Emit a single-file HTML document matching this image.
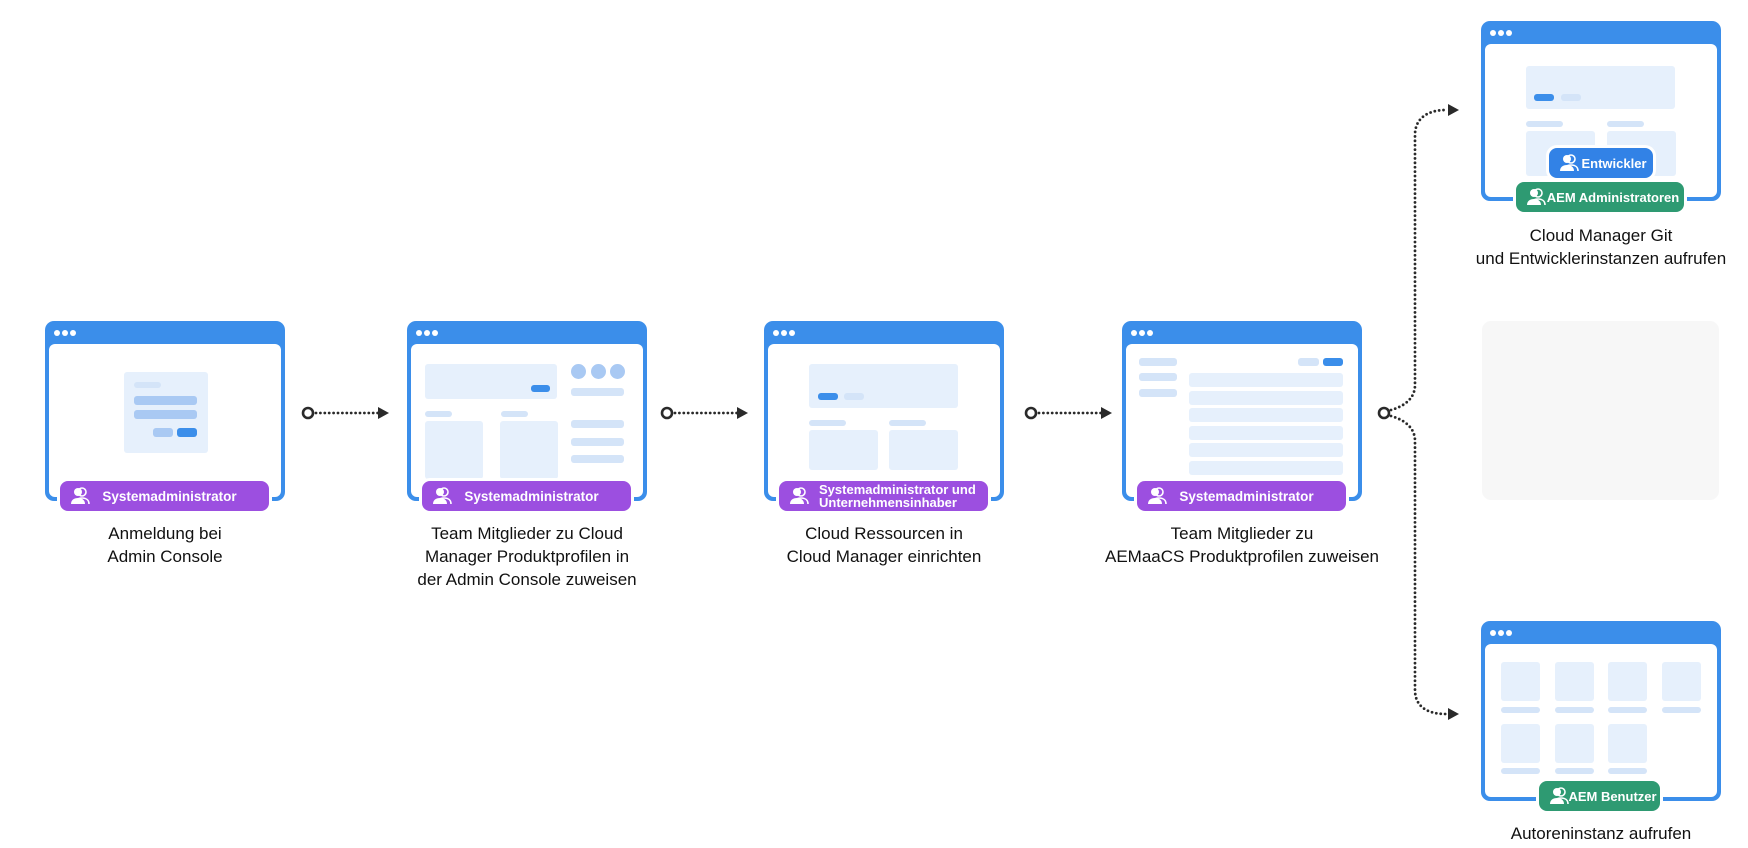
<!DOCTYPE html>
<html><head><meta charset="utf-8"><style>
body{margin:0;width:1748px;height:848px;background:#fff;position:relative;overflow:hidden;font-family:"Liberation Sans",sans-serif}
.box{position:absolute;width:240px;height:180px;background:#3b8eea;border-radius:9px}
.inner{position:absolute;left:4px;top:23px;right:4px;bottom:4px;background:#fff;border-radius:6px}
.d{position:absolute;top:9px;width:6px;height:6px;border-radius:50%;background:#fff}
.r{position:absolute;border-radius:3px}
.p{background:#e6f0fc}.l{background:#d4e4f8}.m{background:#a9c9f3}.b{background:#3b8eea}
.badge{position:absolute;height:30px;border-radius:8px;box-shadow:0 0 0 3px #fff;color:#fff;font-weight:bold;font-size:13.5px;display:flex;align-items:center;justify-content:center;white-space:nowrap;box-sizing:border-box}
.badge svg{position:absolute;left:10px;top:6px}
.pu{background:#9c4fe0;left:15px;top:160px;width:209px;padding-left:10px}
.t{position:absolute;text-align:center;font-size:17px;line-height:23px;color:#111}
</style></head><body>
<svg width="0" height="0" style="position:absolute"><defs>
<symbol id="u" viewBox="0 0 20 18"><circle cx="12" cy="5" r="4" fill="none" stroke="#fff" stroke-width="1.6"/><path d="M5 17c0-4 3-6 7-6s7 2 7 6" fill="none" stroke="#fff" stroke-width="1.6"/><circle cx="8" cy="5" r="4" fill="#fff"/><path d="M1 17c0-4 3-6 7-6s7 2 7 6z" fill="#fff"/></symbol>
</defs></svg>

<!-- Box 1 -->
<div class="box" style="left:45px;top:321px"><div class="inner"></div>
<div class="d" style="left:9px"></div><div class="d" style="left:17px"></div><div class="d" style="left:25px"></div>
<div class="r p" style="left:79px;top:51px;width:84px;height:81px"></div>
<div class="r l" style="left:89px;top:61px;width:27px;height:6px"></div>
<div class="r m" style="left:89px;top:75px;width:63px;height:9px"></div>
<div class="r m" style="left:89px;top:89px;width:63px;height:9px"></div>
<div class="r m" style="left:108px;top:107px;width:20px;height:9px"></div>
<div class="r b" style="left:132px;top:107px;width:20px;height:9px"></div>
<div class="badge pu"><svg width="20" height="18"><use href="#u"/></svg>Systemadministrator</div>
</div>
<div class="t" style="left:65px;top:522px;width:200px">Anmeldung bei<br>Admin Console</div>

<!-- Box 2 -->
<div class="box" style="left:407px;top:321px"><div class="inner"></div>
<div class="d" style="left:9px"></div><div class="d" style="left:17px"></div><div class="d" style="left:25px"></div>
<div class="r p" style="left:18px;top:43px;width:132px;height:35px"></div>
<div class="r b" style="left:124px;top:64px;width:19px;height:7px"></div>
<div class="r m" style="left:164px;top:43px;width:15px;height:15px;border-radius:50%"></div>
<div class="r m" style="left:184px;top:43px;width:15px;height:15px;border-radius:50%"></div>
<div class="r m" style="left:203px;top:43px;width:15px;height:15px;border-radius:50%"></div>
<div class="r l" style="left:164px;top:67px;width:53px;height:8px"></div>
<div class="r l" style="left:18px;top:90px;width:27px;height:6px"></div>
<div class="r l" style="left:94px;top:90px;width:27px;height:6px"></div>
<div class="r p" style="left:18px;top:100px;width:58px;height:58px"></div>
<div class="r p" style="left:93px;top:100px;width:58px;height:58px"></div>
<div class="r l" style="left:164px;top:99px;width:53px;height:8px"></div>
<div class="r l" style="left:164px;top:117px;width:53px;height:8px"></div>
<div class="r l" style="left:164px;top:134px;width:53px;height:8px"></div>
<div class="badge pu"><svg width="20" height="18"><use href="#u"/></svg>Systemadministrator</div>
</div>
<div class="t" style="left:402px;top:522px;width:250px">Team Mitglieder zu Cloud<br>Manager Produktprofilen in<br>der Admin Console zuweisen</div>

<!-- Box 3 -->
<div class="box" style="left:764px;top:321px"><div class="inner"></div>
<div class="d" style="left:9px"></div><div class="d" style="left:17px"></div><div class="d" style="left:25px"></div>
<div class="r p" style="left:45px;top:43px;width:149px;height:44px"></div>
<div class="r b" style="left:54px;top:72px;width:20px;height:7px"></div>
<div class="r l" style="left:80px;top:72px;width:20px;height:7px"></div>
<div class="r l" style="left:45px;top:99px;width:37px;height:6px"></div>
<div class="r l" style="left:125px;top:99px;width:37px;height:6px"></div>
<div class="r p" style="left:45px;top:109px;width:69px;height:40px"></div>
<div class="r p" style="left:125px;top:109px;width:69px;height:40px"></div>
<div class="badge pu" style="font-size:13px;line-height:13px;padding-left:28px;justify-content:flex-start;padding-left:40px"><svg width="20" height="18"><use href="#u"/></svg>Systemadministrator und<br>Unternehmensinhaber</div>
</div>
<div class="t" style="left:759px;top:522px;width:250px">Cloud Ressourcen in<br>Cloud Manager einrichten</div>

<!-- Box 4 -->
<div class="box" style="left:1122px;top:321px"><div class="inner"></div>
<div class="d" style="left:9px"></div><div class="d" style="left:17px"></div><div class="d" style="left:25px"></div>
<div class="r l" style="left:17px;top:37px;width:38px;height:8px"></div>
<div class="r l" style="left:17px;top:52px;width:38px;height:8px"></div>
<div class="r l" style="left:17px;top:68px;width:38px;height:8px"></div>
<div class="r l" style="left:176px;top:37px;width:21px;height:8px"></div>
<div class="r b" style="left:201px;top:37px;width:20px;height:8px"></div>
<div class="r p" style="left:67px;top:52px;width:154px;height:14px"></div>
<div class="r p" style="left:67px;top:70px;width:154px;height:14px"></div>
<div class="r p" style="left:67px;top:87px;width:154px;height:14px"></div>
<div class="r p" style="left:67px;top:105px;width:154px;height:14px"></div>
<div class="r p" style="left:67px;top:122px;width:154px;height:14px"></div>
<div class="r p" style="left:67px;top:140px;width:154px;height:14px"></div>
<div class="badge pu"><svg width="20" height="18"><use href="#u"/></svg>Systemadministrator</div>
</div>
<div class="t" style="left:1092px;top:522px;width:300px">Team Mitglieder zu<br>AEMaaCS Produktprofilen zuweisen</div>

<!-- Top right box -->
<div class="box" style="left:1481px;top:21px"><div class="inner"></div>
<div class="d" style="left:9px"></div><div class="d" style="left:17px"></div><div class="d" style="left:25px"></div>
<div class="r p" style="left:45px;top:45px;width:149px;height:43px"></div>
<div class="r b" style="left:53px;top:73px;width:20px;height:7px"></div>
<div class="r l" style="left:80px;top:73px;width:20px;height:7px"></div>
<div class="r l" style="left:45px;top:100px;width:37px;height:6px"></div>
<div class="r l" style="left:126px;top:100px;width:37px;height:6px"></div>
<div class="r p" style="left:45px;top:110px;width:69px;height:45px"></div>
<div class="r p" style="left:126px;top:110px;width:69px;height:45px"></div>
<div class="badge" style="background:#3282e6;left:68px;top:127px;width:104px;padding-left:26px;font-size:13px"><svg width="20" height="18"><use href="#u"/></svg>Entwickler</div>
<div class="badge" style="background:#2e9a72;left:35px;top:161px;width:168px;padding-left:26px;font-size:13px"><svg width="20" height="18"><use href="#u"/></svg>AEM Administratoren</div>
</div>
<div class="t" style="left:1451px;top:224px;width:300px">Cloud Manager Git<br>und Entwicklerinstanzen aufrufen</div>

<!-- placeholder -->
<div style="position:absolute;left:1482px;top:321px;width:237px;height:179px;background:#f7f7f7;border-radius:9px"></div>

<!-- Bottom box -->
<div class="box" style="left:1481px;top:621px"><div class="inner"></div>
<div class="d" style="left:9px"></div><div class="d" style="left:17px"></div><div class="d" style="left:25px"></div>
<div class="r p" style="left:20px;top:41px;width:39px;height:39px"></div>
<div class="r p" style="left:74px;top:41px;width:39px;height:39px"></div>
<div class="r p" style="left:127px;top:41px;width:39px;height:39px"></div>
<div class="r p" style="left:181px;top:41px;width:39px;height:39px"></div>
<div class="r l" style="left:20px;top:86px;width:39px;height:6px"></div>
<div class="r l" style="left:74px;top:86px;width:39px;height:6px"></div>
<div class="r l" style="left:127px;top:86px;width:39px;height:6px"></div>
<div class="r l" style="left:181px;top:86px;width:39px;height:6px"></div>
<div class="r p" style="left:20px;top:103px;width:39px;height:39px"></div>
<div class="r p" style="left:74px;top:103px;width:39px;height:39px"></div>
<div class="r p" style="left:127px;top:103px;width:39px;height:39px"></div>
<div class="r l" style="left:20px;top:147px;width:39px;height:6px"></div>
<div class="r l" style="left:74px;top:147px;width:39px;height:6px"></div>
<div class="r l" style="left:127px;top:147px;width:39px;height:6px"></div>
<div class="badge" style="background:#2e9a72;left:58px;top:160px;width:121px;padding-left:26px;font-size:13px"><svg width="20" height="18"><use href="#u"/></svg>AEM Benutzer</div>
</div>
<div class="t" style="left:1451px;top:822px;width:300px">Autoreninstanz aufrufen</div>

<!-- connectors -->
<svg width="1748" height="848" style="position:absolute;left:0;top:0">
<g fill="none" stroke="#2a2a2a" stroke-width="2.8" stroke-dasharray="0 4.4" stroke-linecap="round">
<path d="M316 413H378"/><path d="M675 413H737"/><path d="M1039 413H1101"/>
<path d="M1391 410C1405 406 1415 398 1415 385V135C1415 118 1428 110 1446 110"/>
<path d="M1391 416C1405 420 1415 428 1415 441V690C1415 707 1428 714 1446 714"/>
</g>
<g fill="none" stroke="#2a2a2a" stroke-width="2.6">
<circle cx="308" cy="413" r="5"/><circle cx="667" cy="413" r="5"/><circle cx="1031" cy="413" r="5"/><circle cx="1384" cy="413" r="5"/>
</g>
<g fill="#2a2a2a">
<path d="M378 407L389 413L378 419Z"/><path d="M737 407L748 413L737 419Z"/><path d="M1101 407L1112 413L1101 419Z"/>
<path d="M1448 104L1459 110L1448 116Z"/><path d="M1448 708L1459 714L1448 720Z"/>
</g>
</svg>
</body></html>
